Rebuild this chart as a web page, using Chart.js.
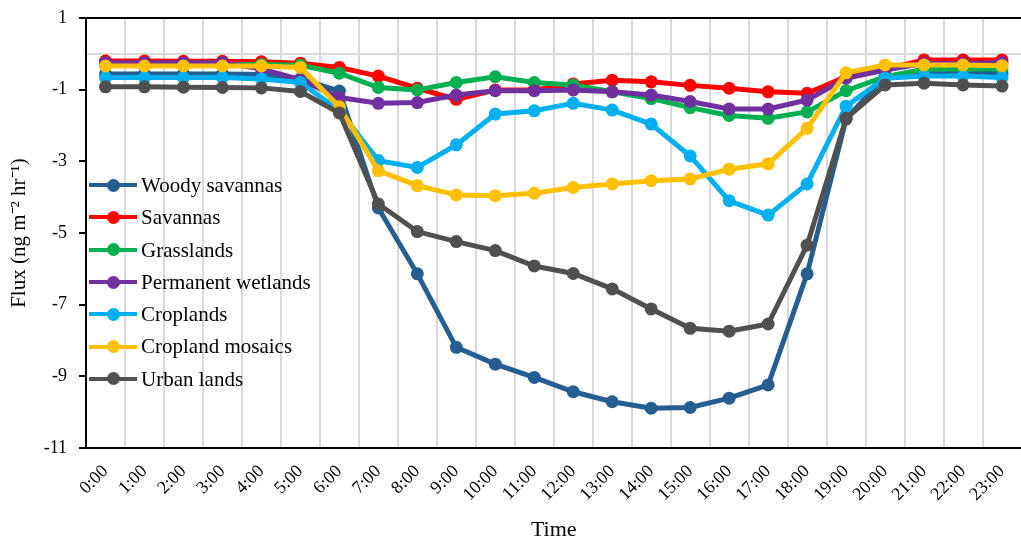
<!DOCTYPE html>
<html>
<head>
<meta charset="utf-8">
<script src="https://cdn.jsdelivr.net/npm/chart.js@4/dist/chart.umd.min.js"></script>
<style>
  html, body { margin: 0; padding: 0; background: #fff; overflow: hidden; width: 1021px; height: 541px; }
  #wrap { position: relative; width: 1028px; height: 541px; }
  #legend { position: absolute; left: 89px; top: 169px; font-family: "Liberation Serif", "Times New Roman", serif; font-size: 21px; color: #000; }
  .row { height: 32.3px; line-height: 32.3px; white-space: nowrap; display: flex; align-items: center; }
  .sw { position: relative; width: 48px; height: 13px; margin-right: 4px; }
  .sw .ln { position: absolute; left: 0; right: 0; top: 4.5px; height: 4px; }
  .sw .dt { position: absolute; left: 17.5px; top: 0; width: 13px; height: 13px; border-radius: 50%; }
</style>
</head>
<body>
<div id="wrap">
  <canvas id="c" width="1028" height="541"></canvas>
  <div id="legend"></div>
</div>
<script>
const hours = ['0:00','1:00','2:00','3:00','4:00','5:00','6:00','7:00','8:00','9:00','10:00','11:00','12:00','13:00','14:00','15:00','16:00','17:00','18:00','19:00','20:00','21:00','22:00','23:00'];
const seriesNames = ['Woody savannas','Savannas','Grasslands','Permanent wetlands','Croplands','Cropland mosaics','Urban lands'];
const seriesColors = ['#255E91','#FF0000','#00B050','#7030A0','#00B0F0','#FFC000','#505050'];
const woodySavannas = [-0.56,-0.56,-0.56,-0.56,-0.58,-0.70,-1.04,-4.30,-6.14,-8.19,-8.66,-9.03,-9.43,-9.71,-9.89,-9.87,-9.61,-9.24,-6.14,-1.82,-0.62,-0.54,-0.54,-0.55];
const savannas = [-0.20,-0.20,-0.21,-0.21,-0.22,-0.26,-0.38,-0.62,-0.96,-1.27,-1.01,-1.01,-0.84,-0.74,-0.78,-0.88,-0.96,-1.06,-1.10,-0.64,-0.42,-0.17,-0.17,-0.17];
const grasslands = [-0.30,-0.30,-0.30,-0.30,-0.30,-0.32,-0.54,-0.94,-1.01,-0.80,-0.64,-0.80,-0.87,-1.06,-1.25,-1.50,-1.72,-1.80,-1.62,-1.03,-0.64,-0.43,-0.42,-0.42];
const permanentWetlands = [-0.25,-0.25,-0.25,-0.25,-0.42,-0.72,-1.22,-1.38,-1.36,-1.15,-1.03,-1.03,-1.01,-1.06,-1.15,-1.33,-1.54,-1.54,-1.29,-0.68,-0.45,-0.27,-0.27,-0.25];
const croplands = [-0.66,-0.66,-0.66,-0.66,-0.70,-0.80,-1.58,-2.98,-3.17,-2.54,-1.68,-1.59,-1.38,-1.57,-1.96,-2.85,-4.10,-4.50,-3.63,-1.46,-0.68,-0.62,-0.62,-0.66];
const croplandMosaics = [-0.34,-0.34,-0.34,-0.34,-0.34,-0.38,-1.48,-3.26,-3.68,-3.94,-3.96,-3.89,-3.73,-3.63,-3.54,-3.49,-3.22,-3.07,-2.08,-0.53,-0.31,-0.31,-0.31,-0.33];
const urbanLands = [-0.92,-0.92,-0.93,-0.94,-0.95,-1.05,-1.65,-4.19,-4.96,-5.24,-5.49,-5.92,-6.13,-6.56,-7.12,-7.66,-7.74,-7.54,-5.34,-1.80,-0.87,-0.82,-0.87,-0.90];
const yTickValues = [1,-1,-3,-5,-7,-9,-11];

const allValues = [woodySavannas, savannas, grasslands, permanentWetlands, croplands, croplandMosaics, urbanLands];
const FONT = '"Liberation Serif", "Times New Roman", serif';

const datasets = allValues.map((vals, i) => ({
  label: seriesNames[i],
  data: vals,
  borderColor: seriesColors[i],
  backgroundColor: seriesColors[i],
  pointBackgroundColor: seriesColors[i],
  pointBorderColor: seriesColors[i],
  borderWidth: 5,
  pointRadius: 6.5,
  pointBorderWidth: 0,
  tension: 0,
  order: allValues.length - i
}));

new Chart(document.getElementById('c'), {
  type: 'line',
  data: { labels: hours, datasets },
  options: {
    responsive: false,
    animation: false,
    layout: { padding: { top: 18, left: 0, right: 1, bottom: 0 } },
    plugins: { legend: { display: false }, tooltip: { enabled: false } },
    scales: {
      x: {
        offset: true,
        grid: { offset: true, color: '#d9d9d9', lineWidth: 2, tickColor: 'transparent', tickLength: 8 },
        border: { color: '#000', width: 2 },
        ticks: { color: '#000', font: { family: FONT, size: 18 }, maxRotation: 45, minRotation: 45, autoSkip: false, padding: 5 },
        title: { display: true, text: 'Time', color: '#000', font: { family: FONT, size: 22, lineHeight: 1 }, padding: { top: 0, bottom: 0 } },
        afterFit: (s) => { s.height = 93; }
      },
      y: {
        min: -11, max: 1,
        afterBuildTicks: (s) => { const t = []; for (let v = 1; v >= -11; v--) t.push({ value: v }); s.ticks = t; },
        grid: {
          color: (c) => c.tick && c.tick.value === 1 ? '#000' : (c.tick && c.tick.value === 0 ? '#d9d9d9' : 'transparent'),
          lineWidth: 2,
          tickColor: (c) => c.tick && yTickValues.includes(c.tick.value) ? '#000' : 'transparent',
          tickLength: 7
        },
        border: { color: '#000', width: 2 },
        ticks: {
          color: '#000', font: { family: FONT, size: 18 }, padding: 12,
          callback: (v) => yTickValues.includes(v) ? String(v) : ''
        },
        title: { display: true, text: 'Flux (ng m\u207B\u00B2 hr\u207B\u00B9)', color: '#000', font: { family: FONT, size: 21, lineHeight: 1 }, padding: { top: 9, bottom: 0 } },
        afterFit: (s) => { s.width = 86; s.paddingTop = 0; s.paddingBottom = 0; }
      }
    }
  }
});

const leg = document.getElementById('legend');
seriesNames.forEach((n, i) => {
  const row = document.createElement('div');
  row.className = 'row';
  row.innerHTML = '<span class="sw"><span class="ln" style="background:' + seriesColors[i] + '"></span><span class="dt" style="background:' + seriesColors[i] + '"></span></span><span>' + n + '</span>';
  leg.appendChild(row);
});
</script>
</body>
</html>
